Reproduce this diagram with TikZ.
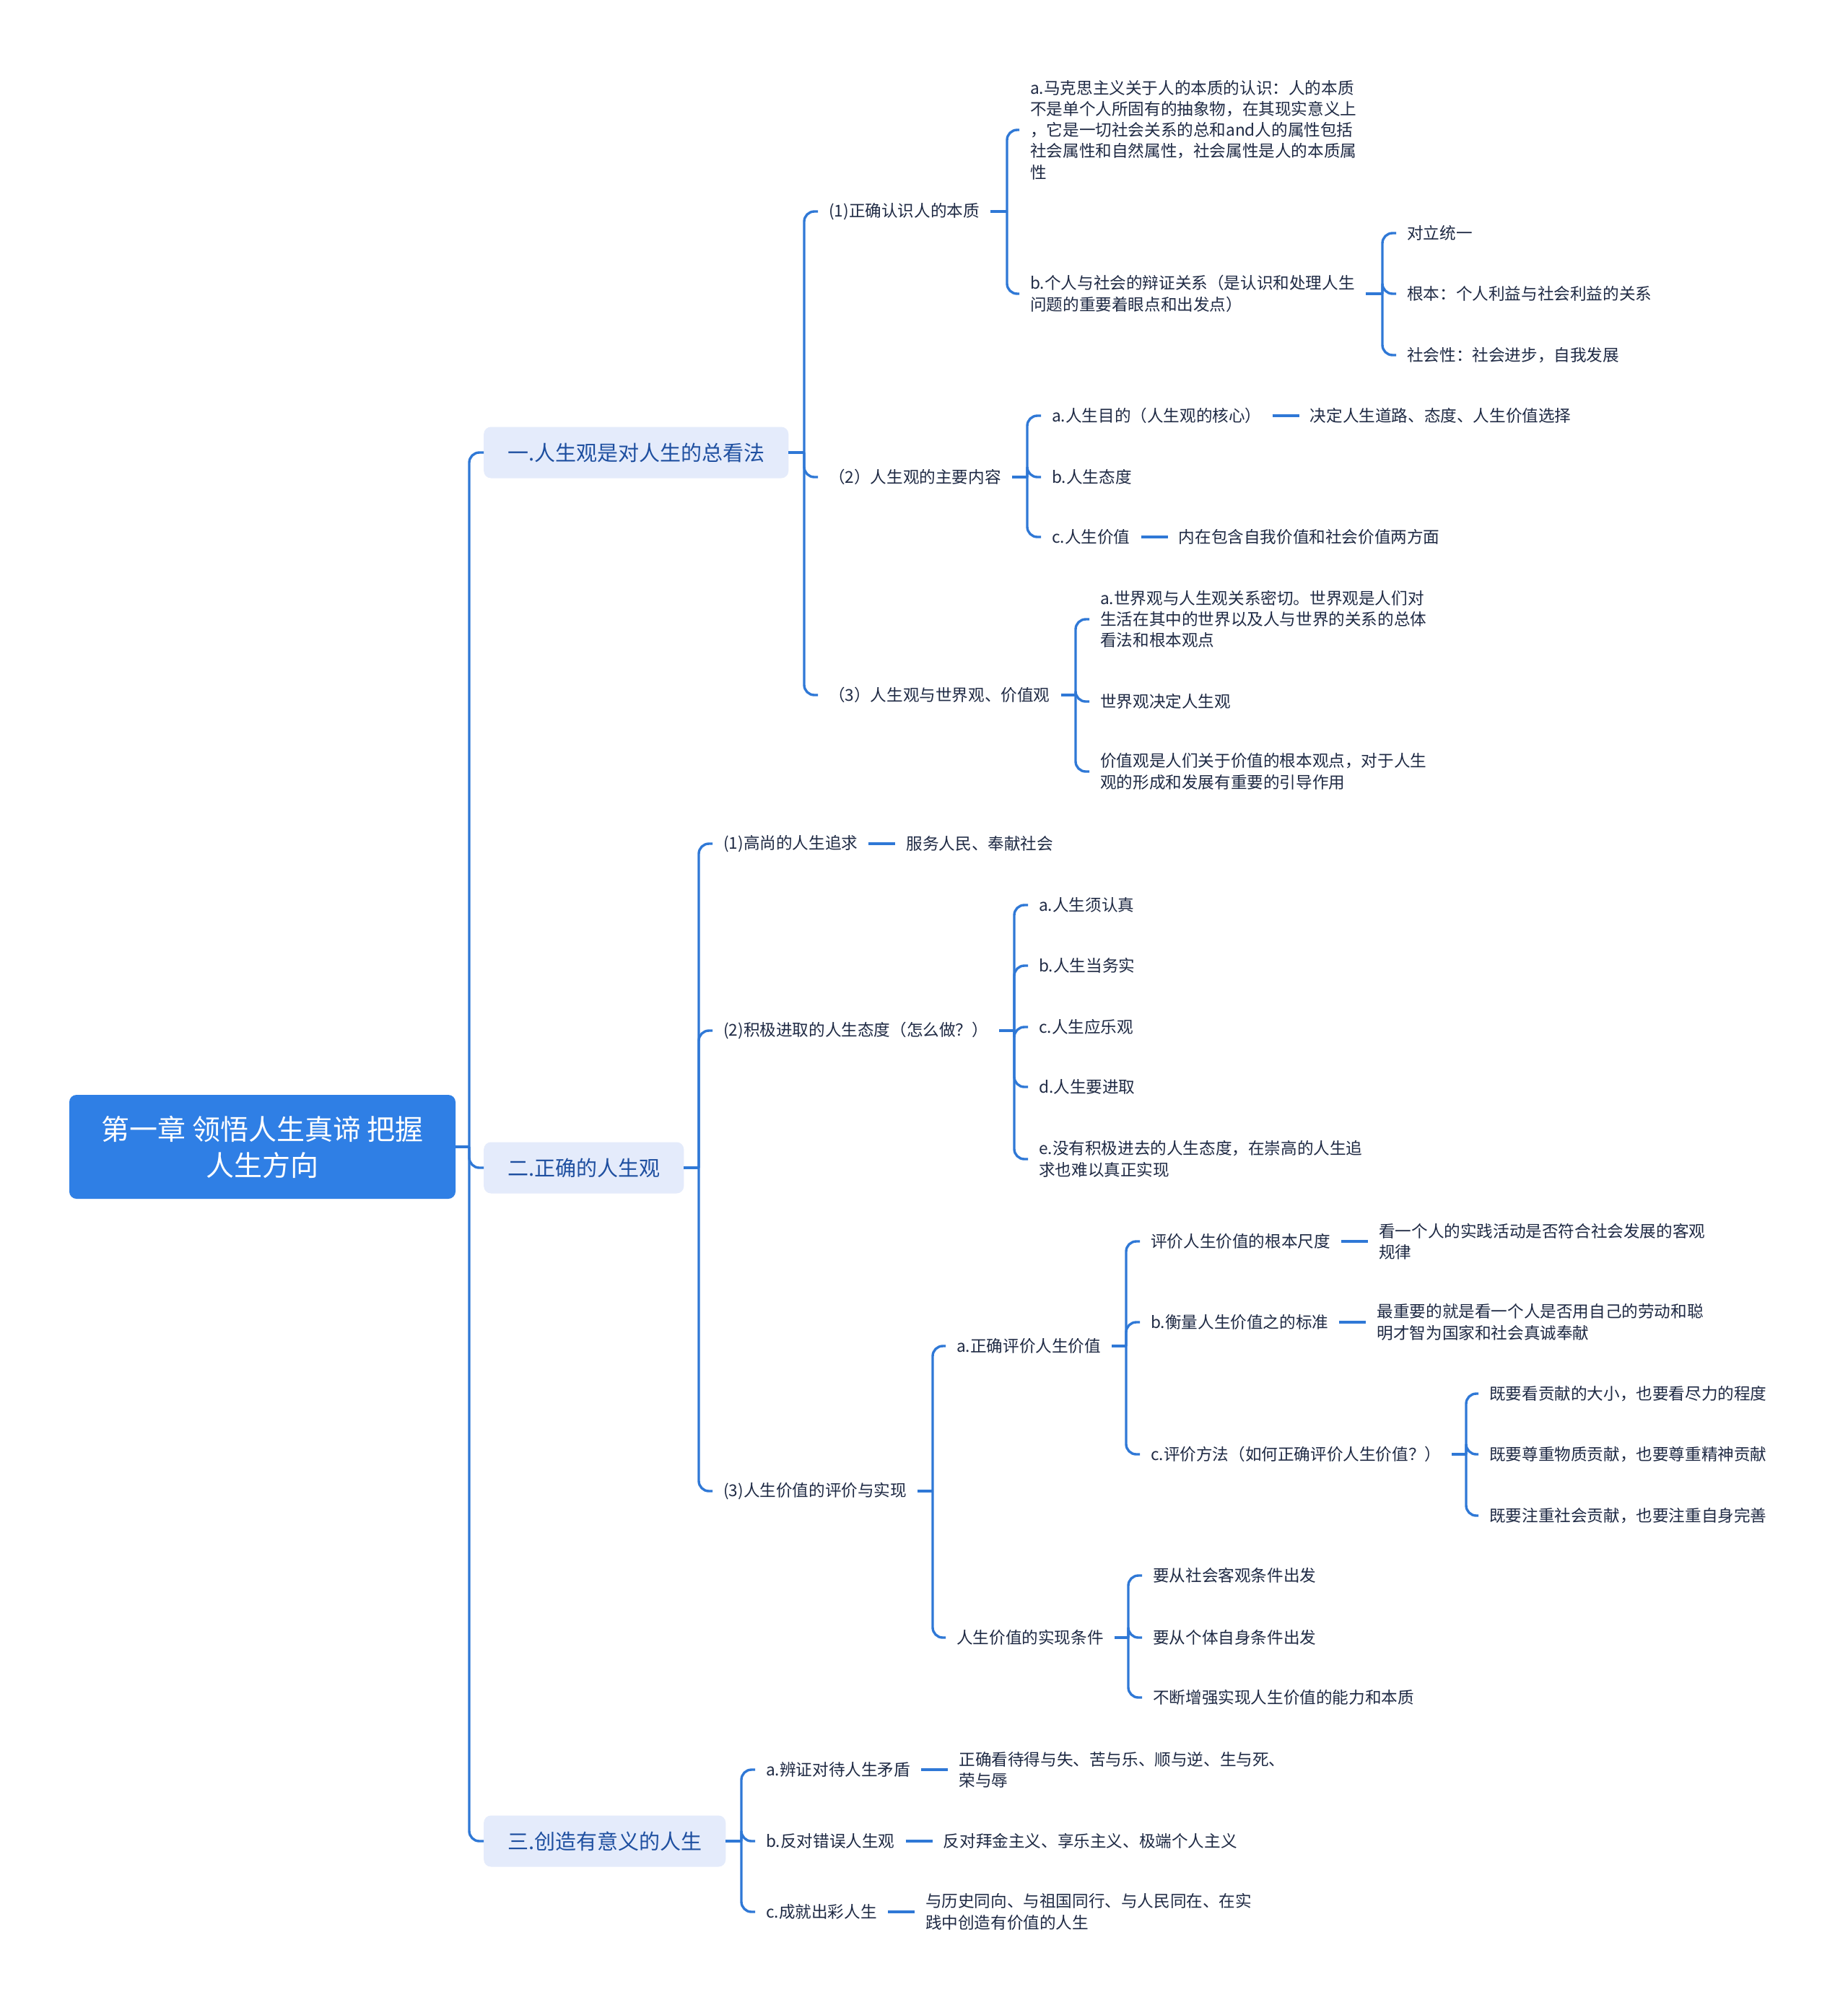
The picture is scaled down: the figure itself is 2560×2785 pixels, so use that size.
\documentclass[tikz,border=0pt]{standalone}
\usepackage{fontspec}
\setmainfont{Noto Sans CJK SC}
\usetikzlibrary{positioning}
\definecolor{lineblue}{HTML}{2F78D6}
\definecolor{rootblue}{HTML}{2F7FE5}
\definecolor{lvlfill}{HTML}{E4EBFB}
\definecolor{lvltext}{HTML}{1E4FA0}
\definecolor{leaftext}{HTML}{1F2A44}
\begin{document}
\begin{tikzpicture}[x=1pt,y=-1pt,
  conn/.style={draw=lineblue, line width=3.4pt, rounded corners=14pt},
  leaf/.style={anchor=west, inner xsep=15pt, inner ysep=4pt, text=leaftext, font=\fontsize{22.6}{29.3}\selectfont, align=left},
  lvl/.style={anchor=west, fill=lvlfill, rounded corners=10pt, text=lvltext, font=\fontsize{29}{35}\selectfont, inner xsep=33pt, minimum height=71pt},
  rootnode/.style={fill=rootblue, rounded corners=10pt, text=white, font=\fontsize{39}{50}\selectfont, align=center, minimum width=535pt, minimum height=144pt},
  node distance=37pt
]
\fill[white] (0,0) rectangle (2560,2785);
\useasboundingbox (0,0) rectangle (2560,2785);

% root
\node[rootnode] (root) at (363.5,1589) {第一章 领悟人生真谛 把握\\人生方向};
\coordinate (s0) at (650,1589);
\draw[conn] (root.east) -- (s0);

\node[lvl] (A) at (670,627) {一.人生观是对人生的总看法};
\node[lvl] (B) at (670,1618) {二.正确的人生观};
\node[lvl] (C) at (670,2551) {三.创造有意义的人生};
\draw[conn] (s0) |- (A.west);
\draw[conn] (s0) |- (B.west);
\draw[conn] (s0) |- (C.west);

% ---------- group A
\coordinate (sA) at (1114,627);
\draw[conn] (A.east) -- (sA);
\node[leaf] (A1) at (1133,293) {(1)正确认识人的本质};
\node[leaf] (A2) at (1133,661) {（2）人生观的主要内容};
\node[leaf] (A3) at (1133,963) {（3）人生观与世界观、价值观};
\foreach \n in {A1,A2,A3} \draw[conn] (sA) |- (\n.west);

\coordinate (sA1) at (1395,293);
\draw[conn] (A1.east) -- (sA1);
\node[leaf] (A1a) at (1412,180) {a.马克思主义关于人的本质的认识：人的本质\\不是单个人所固有的抽象物，在其现实意义上\\，它是一切社会关系的总和and人的属性包括\\社会属性和自然属性，社会属性是人的本质属\\性};
\node[leaf] (A1b) at (1412,407) {b.个人与社会的辩证关系（是认识和处理人生\\问题的重要着眼点和出发点）};
\foreach \n in {A1a,A1b} \draw[conn] (sA1) |- (\n.west);

\coordinate (sA1b) at (1915,407);
\draw[conn] (A1b.east) -- (sA1b);
\node[leaf] (A1b1) at (1934,323) {对立统一};
\node[leaf] (A1b2) at (1934,407) {根本：个人利益与社会利益的关系};
\node[leaf] (A1b3) at (1934,492) {社会性：社会进步，自我发展};
\foreach \n in {A1b1,A1b2,A1b3} \draw[conn] (sA1b) |- (\n.west);

\coordinate (sA2) at (1423,661);
\draw[conn] (A2.east) -- (sA2);
\node[leaf] (A2a) at (1442,576) {a.人生目的（人生观的核心）};
\node[leaf] (A2b) at (1442,661) {b.人生态度};
\node[leaf] (A2c) at (1442,744) {c.人生价值};
\foreach \n in {A2a,A2b,A2c} \draw[conn] (sA2) |- (\n.west);
\node[leaf, right=37pt of A2a] (A2a1) {决定人生道路、态度、人生价值选择};
\draw[conn] (A2a.east) -- (A2a1.west);
\node[leaf, right=37pt of A2c] (A2c1) {内在包含自我价值和社会价值两方面};
\draw[conn] (A2c.east) -- (A2c1.west);

\coordinate (sA3) at (1490,963);
\draw[conn] (A3.east) -- (sA3);
\node[leaf] (A3a) at (1509,858) {a.世界观与人生观关系密切。世界观是人们对\\生活在其中的世界以及人与世界的关系的总体\\看法和根本观点};
\node[leaf] (A3b) at (1509,972) {世界观决定人生观};
\node[leaf] (A3c) at (1509,1069) {价值观是人们关于价值的根本观点，对于人生\\观的形成和发展有重要的引导作用};
\foreach \n in {A3a,A3b,A3c} \draw[conn] (sA3) |- (\n.west);

% ---------- group B
\coordinate (sB) at (968,1618);
\draw[conn] (B.east) -- (sB);
\node[leaf] (B1) at (987,1169) {(1)高尚的人生追求};
\node[leaf] (B2) at (987,1428) {(2)积极进取的人生态度（怎么做？）};
\node[leaf] (B3) at (987,2066) {(3)人生价值的评价与实现};
\foreach \n in {B1,B2,B3} \draw[conn] (sB) |- (\n.west);
\node[leaf, right=37pt of B1] (B11) {服务人民、奉献社会};
\draw[conn] (B1.east) -- (B11.west);

\coordinate (sB2) at (1405,1428);
\draw[conn] (B2.east) -- (sB2);
\node[leaf] (B2a) at (1424,1254) {a.人生须认真};
\node[leaf] (B2b) at (1424,1338) {b.人生当务实};
\node[leaf] (B2c) at (1424,1423) {c.人生应乐观};
\node[leaf] (B2d) at (1424,1506) {d.人生要进取};
\node[leaf] (B2e) at (1424,1606) {e.没有积极进去的人生态度，在崇高的人生追\\求也难以真正实现};
\foreach \n in {B2a,B2b,B2c,B2d,B2e} \draw[conn] (sB2) |- (\n.west);

\coordinate (sB3) at (1292,2066);
\draw[conn] (B3.east) -- (sB3);
\node[leaf] (B3a) at (1310,1865) {a.正确评价人生价值};
\node[leaf] (B3b) at (1310,2269) {人生价值的实现条件};
\foreach \n in {B3a,B3b} \draw[conn] (sB3) |- (\n.west);

\coordinate (sB3a) at (1560,1865);
\draw[conn] (B3a.east) -- (sB3a);
\node[leaf] (B3a1) at (1579,1720) {评价人生价值的根本尺度};
\node[leaf] (B3a2) at (1579,1832) {b.衡量人生价值之的标准};
\node[leaf] (B3a3) at (1579,2015) {c.评价方法（如何正确评价人生价值？）};
\foreach \n in {B3a1,B3a2,B3a3} \draw[conn] (sB3a) |- (\n.west);
\node[leaf, right=37pt of B3a1] (B3a1x) {看一个人的实践活动是否符合社会发展的客观\\规律};
\draw[conn] (B3a1.east) -- (B3a1x.west);
\node[leaf, right=37pt of B3a2] (B3a2x) {最重要的就是看一个人是否用自己的劳动和聪\\明才智为国家和社会真诚奉献};
\draw[conn] (B3a2.east) -- (B3a2x.west);

\coordinate (sB3a3) at (2031,2015);
\draw[conn] (B3a3.east) -- (sB3a3);
\node[leaf] (B3a3a) at (2048,1931) {既要看贡献的大小，也要看尽力的程度};
\node[leaf] (B3a3b) at (2048,2015) {既要尊重物质贡献，也要尊重精神贡献};
\node[leaf] (B3a3c) at (2048,2100) {既要注重社会贡献，也要注重自身完善};
\foreach \n in {B3a3a,B3a3b,B3a3c} \draw[conn] (sB3a3) |- (\n.west);

\coordinate (sB3b) at (1563,2269);
\draw[conn] (B3b.east) -- (sB3b);
\node[leaf] (B3b1) at (1582,2183) {要从社会客观条件出发};
\node[leaf] (B3b2) at (1582,2269) {要从个体自身条件出发};
\node[leaf] (B3b3) at (1582,2352) {不断增强实现人生价值的能力和本质};
\foreach \n in {B3b1,B3b2,B3b3} \draw[conn] (sB3b) |- (\n.west);

% ---------- group C
\coordinate (sC) at (1027,2551);
\draw[conn] (C.east) -- (sC);
\node[leaf] (C1) at (1046,2452) {a.辨证对待人生矛盾};
\node[leaf] (C2) at (1046,2551) {b.反对错误人生观};
\node[leaf] (C3) at (1046,2649) {c.成就出彩人生};
\foreach \n in {C1,C2,C3} \draw[conn] (sC) |- (\n.west);
\node[leaf, right=37pt of C1] (C1x) {正确看待得与失、苦与乐、顺与逆、生与死、\\荣与辱};
\draw[conn] (C1.east) -- (C1x.west);
\node[leaf, right=37pt of C2] (C2x) {反对拜金主义、享乐主义、极端个人主义};
\draw[conn] (C2.east) -- (C2x.west);
\node[leaf, right=37pt of C3] (C3x) {与历史同向、与祖国同行、与人民同在、在实\\践中创造有价值的人生};
\draw[conn] (C3.east) -- (C3x.west);
\end{tikzpicture}
\end{document}
